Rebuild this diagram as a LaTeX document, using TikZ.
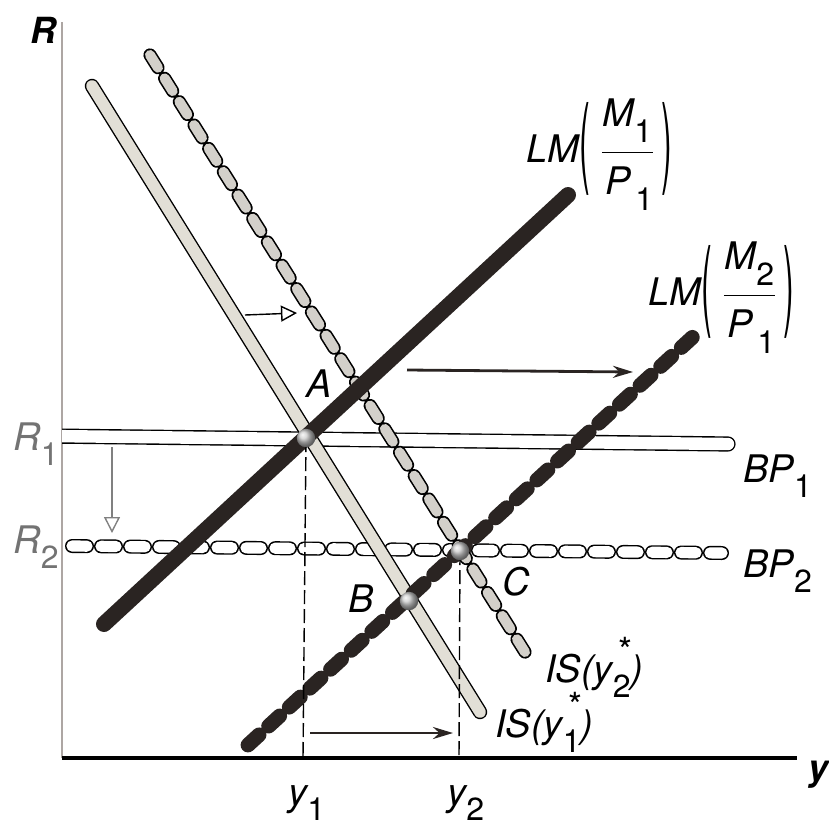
\documentclass[tikz,border=0pt]{standalone}
\usepackage{fontspec}
\usepackage{graphicx}
\setmainfont{TeX Gyre Heros}
\usetikzlibrary{arrows.meta}
\definecolor{lmblack}{HTML}{2A2422}
\definecolor{isgray}{HTML}{E2DFD6}
\definecolor{beadgray}{HTML}{D3D0CA}
\definecolor{axisgray}{HTML}{ADA6A3}
\newcommand\sub[1]{\raisebox{-0.42em}{\upshape\fontsize{16}{18}\selectfont #1}}
\newcommand\subsup[2]{\rlap{\raisebox{0.5em}{\upshape\fontsize{18}{18}\selectfont\,#2}}\sub{#1}}
\newcommand\tallparen[1]{\raisebox{-6pt}{\scalebox{0.85}[2.6]{\upshape #1}}}
\newcommand\ratio[2]{\tallparen(\kern6pt$\vcenter{\hbox{\begin{tabular}{@{}c@{}}#1\\[6pt]\hline\rule{0pt}{1.1em}\kern2pt#2\end{tabular}}}$\kern4pt\tallparen)}

\begin{document}
\begin{tikzpicture}[x=0.5pt,y=-0.5pt,
  lbl/.style={font=\fontsize{19}{22}\selectfont\itshape, inner sep=0pt},
  axlbl/.style={font=\fontsize{18}{22}\selectfont\bfseries\itshape, inner sep=0pt},
  isone/.style={line width=0.7pt, double=isgray, double distance=5.8pt, line cap=round},
  istwo/.style={draw=beadgray, line width=5pt, line cap=round, dash pattern=on 7.5pt off 6.3pt,
    preaction={draw=black, line width=6.6pt, line cap=round, dash pattern=on 7.5pt off 6.3pt}},
  lmone/.style={draw=lmblack, line width=8pt, line cap=round},
  lmtwo/.style={draw=lmblack, line width=7.4pt, line cap=round, dash pattern=on 7.5pt off 6.5pt},
  bpone/.style={line width=0.7pt, double=white, double distance=6.2pt, line cap=round},
  bptwo/.style={draw=white, line width=5.6pt, line cap=round, dash pattern=on 7.5pt off 7pt,
    preaction={draw=black, line width=7pt, line cap=round, dash pattern=on 7.5pt off 7pt}},
  guide/.style={line width=0.7pt, dash pattern=on 7pt off 2.5pt},
  shiftarr/.style={-{Stealth[length=10pt,width=6pt]}, line width=1.4pt, lmblack},
  hollow/.style={-{Triangle[open,length=8pt,width=8pt]}, line width=0.7pt}]
\useasboundingbox (0,0) rectangle (829,825);

% axes
\coordinate (O) at (62,758);
\coordinate (Rtop) at (62,22);
\coordinate (yend) at (797,758);
\draw[axisgray, line width=1.2pt] (O) -- (Rtop);
\draw[line width=1.6pt] (O) -- (yend);
\node[axlbl, anchor=base west] (Rlab) at (30,43) {R};
\node[axlbl, anchor=base west] (ylab) at (808,780) {y};

% curve ends and equilibria
\coordinate (bp1a) at (50,436);  \coordinate (bp1b) at (728,444);
\coordinate (bp2a) at (72,546);  \coordinate (bp2b) at (722,553);
\coordinate (is1a) at (92,86);   \coordinate (is1b) at (480,712);
\coordinate (is2a) at (150,55);  \coordinate (is2b) at (530,660);
\coordinate (lm1a) at (104,624); \coordinate (lm1b) at (568,195);
\coordinate (lm2a) at (248,745); \coordinate (lm2b) at (696,334);
\coordinate (A) at (306,438);
\coordinate (B) at (409,601);
\coordinate (C) at (460,551);
\coordinate (y1) at (303,758);
\coordinate (y2) at (459,758);

% curves
\begin{scope}
  \clip (62,0) rectangle (829,825);
  \draw[bpone] (bp1a) -- (bp1b);
\end{scope}
\draw[bptwo] (bp2a) -- (bp2b);
\draw[isone] (is1a) -- (is1b);
\draw[istwo] (is2a) -- (is2b);
\draw[lmone] (lm1a) -- (lm1b);
\draw[lmtwo] (lm2a) -- (lm2b);

% guides to the axis
\draw[guide] (A) -- (y1);
\draw[guide] (C) -- (y2);

\foreach \p in {A,B,C}
  \shade[ball color=gray!40] (\p) circle (4.6pt);

% shifts
\coordinate (s1a) at (310,733); \coordinate (s1b) at (453,733);
\coordinate (s2a) at (407,370); \coordinate (s2b) at (633,372);
\coordinate (s3a) at (245,315); \coordinate (s3b) at (297,313);
\coordinate (s4a) at (112,447); \coordinate (s4b) at (112,533);
\draw[shiftarr] (s1a) -- (s1b);
\draw[shiftarr] (s2a) -- (s2b);
\draw[hollow] (s3a) -- (s3b);
\draw[hollow, black!50] (s4a) -- (s4b);

% labels
\node[lbl, anchor=base west] (Alab) at (306,397) {A};
\node[lbl, anchor=base west] (Blab) at (348,612) {B};
\node[lbl, anchor=base west] (Clab) at (502,595) {C};
\node[lbl, anchor=base west, text=black!55] (R1lab) at (13,450) {R\sub1};
\node[lbl, anchor=base west, text=black!55] (R2lab) at (13,553) {R\sub2};
\node[lbl, anchor=base west] (bp1lab) at (743,482) {BP\sub1};
\node[lbl, anchor=base west] (bp2lab) at (743,577) {BP\sub2};
\node[lbl, anchor=base west] (is2lab) at (545,682) {IS(y\subsup2*)};
\node[lbl, anchor=base west] (is1lab) at (495,737) {IS(y\subsup1*)};
\node[lbl, anchor=base west] (y1lab) at (288,805) {y\sub1};
\node[lbl, anchor=base west] (y2lab) at (447,805) {y\sub2};
\node[lbl, anchor=base west] (lm1lab) at (526,162) {LM\ratio{M\sub1}{P\kern2pt\sub1}};
\node[lbl, anchor=base west] (lm2lab) at (648,305) {LM\ratio{M\sub2}{P\kern2pt\sub1}};
\end{tikzpicture}
\end{document}
